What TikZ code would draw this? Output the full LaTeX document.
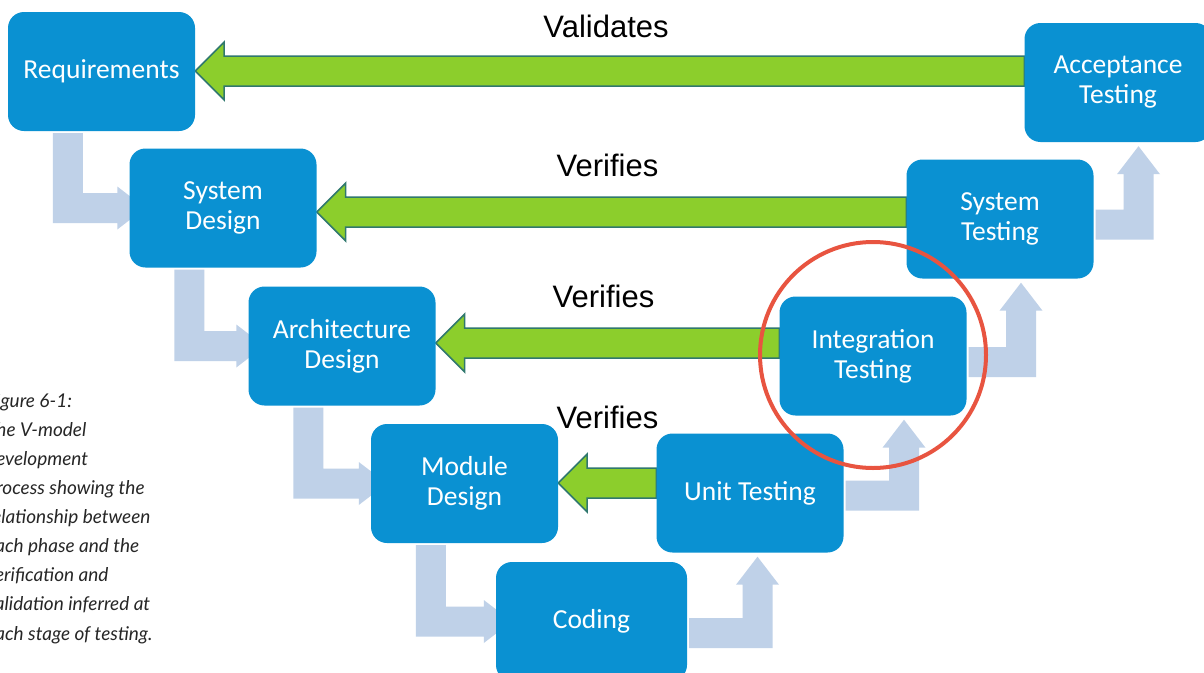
\documentclass[tikz,border=0pt]{standalone}
\usepackage{fontspec}
\setmainfont{Carlito}
\newfontfamily\labelfont{Liberation Sans}
\newfontfamily\capfont{Lato}
\usetikzlibrary{calc,backgrounds}
\definecolor{boxblue}{RGB}{10,145,210}
\definecolor{connblue}{RGB}{191,209,232}
\definecolor{arrgreen}{RGB}{140,206,44}
\definecolor{arredge}{RGB}{48,120,110}
\definecolor{circred}{RGB}{232,84,64}
\tikzset{
  box/.style={rectangle, rounded corners=16pt, fill=boxblue, text=white,
    minimum width=187pt, minimum height=119pt, align=center, inner sep=0pt,
    font=\fontsize{27.5}{30}\selectfont},
  conn/.style={fill=connblue},
  greenarr/.style={fill=arrgreen, draw=arredge, line width=1.5pt, line join=miter},
  lbl/.style={font=\labelfont\fontsize{31}{31}\selectfont, anchor=base, inner sep=0pt, text=black},
  caption/.style={font=\capfont\itshape\fontsize{19}{29.1}\selectfont, anchor=base west,
    align=left, inner sep=0pt, text=black!85},
  redring/.style={draw=circred, line width=4pt},
}
\newcommand\greenarrow[3]{%
  \path[greenarr] let \p1=(#1.west), \p2=(#2.east) in
  (\x2,-#3pt) -- (\x2+29pt,-#3pt+29pt) -- (\x2+29pt,-#3pt+15pt) -- (\x1,-#3pt+15pt)
  -- (\x1,-#3pt-15pt) -- (\x2+29pt,-#3pt-15pt) -- (\x2+29pt,-#3pt-29pt) -- cycle;}
\newcommand\downconn[2]{%
  \path[conn] let \p1=(#1.south west), \p2=(#2.west) in
  (\x1+45pt,\y1-2pt) -- (\x1+75pt,\y1-2pt) -- (\x1+75pt,\y2+15pt) -- (\x2-12pt,\y2+15pt)
  -- (\x2-12pt,\y2+21.5pt) -- (\x2+16pt,\y2) -- (\x2-12pt,\y2-21.5pt) -- (\x2-12pt,\y2-15pt)
  -- (\x1+45pt,\y2-15pt) -- cycle;}
\newcommand\upconn[4]{%
  \path[conn] let \p1=(#1.east), \p2=(#2.south) in
  (\x1+2pt,-#4pt-15pt) -- (#3pt+15pt,-#4pt-15pt) -- (#3pt+15pt,\y2-32pt)
  -- (#3pt+21.5pt,\y2-32pt) -- (#3pt,\y2-4pt) -- (#3pt-21.5pt,\y2-32pt) -- (#3pt-15pt,\y2-32pt)
  -- (#3pt-15pt,-#4pt+15pt) -- (\x1+2pt,-#4pt+15pt) -- cycle;}
\begin{document}
\begin{tikzpicture}[x=1pt,y=1pt]
\useasboundingbox (0,0) rectangle (1204,-672);
\clip (0,0) rectangle (1204,-672);
% boxes
\node[box] (req)   at (101.5,-71.5) {Requirements};
\node[box] (sysd)  at (223,-208)    {System\\Design};
\node[box] (arch)  at (342,-346)    {Architecture\\Design};
\node[box] (mod)   at (464.5,-483.5) {Module\\Design};
\node[box, minimum width=191pt] (cod) at (591.5,-621.5) {Coding};
\node[box] (unit)  at (750,-493)    {Unit Testing};
\node[box] (integ) at (873,-356)    {Integration\\Testing};
\node[box] (syst)  at (1000,-219)   {System\\Testing};
\node[box] (acc)   at (1118,-82.5)  {Acceptance\\Testing};
% labels
\node[lbl] (l1) at (606,-37)    {Validates};
\node[lbl] (l2) at (607.5,-176) {Verifies};
\node[lbl] (l3) at (603.5,-307) {Verifies};
\node[lbl] (l4) at (607.5,-428) {Verifies};
% caption (anchor is the baseline of the last line)
\node[caption] (cap) at (-14,-640) {Figure 6-1:\\The V-model\\development\\process showing the\\relationship between\\each phase and the\\verification and\\validation inferred at\\each stage of testing.};
% red circle
\draw[redring] (integ.center) ++(0,1) circle[radius=113];
\begin{pgfonlayer}{background}
  \fill[white] (0,0) rectangle (1204,-672);
  \greenarrow{acc}{req}{71}
  \greenarrow{syst}{sysd}{212}
  \greenarrow{integ}{arch}{343}
  \greenarrow{unit}{mod}{483}
  \downconn{req}{sysd}
  \downconn{sysd}{arch}
  \downconn{arch}{mod}
  \downconn{mod}{cod}
  \upconn{cod}{unit}{757.5}{633}
  \upconn{unit}{integ}{904}{495.5}
  \upconn{integ}{syst}{1021}{362}
  \upconn{syst}{acc}{1138.5}{224.5}
\end{pgfonlayer}
\end{tikzpicture}
\end{document}
